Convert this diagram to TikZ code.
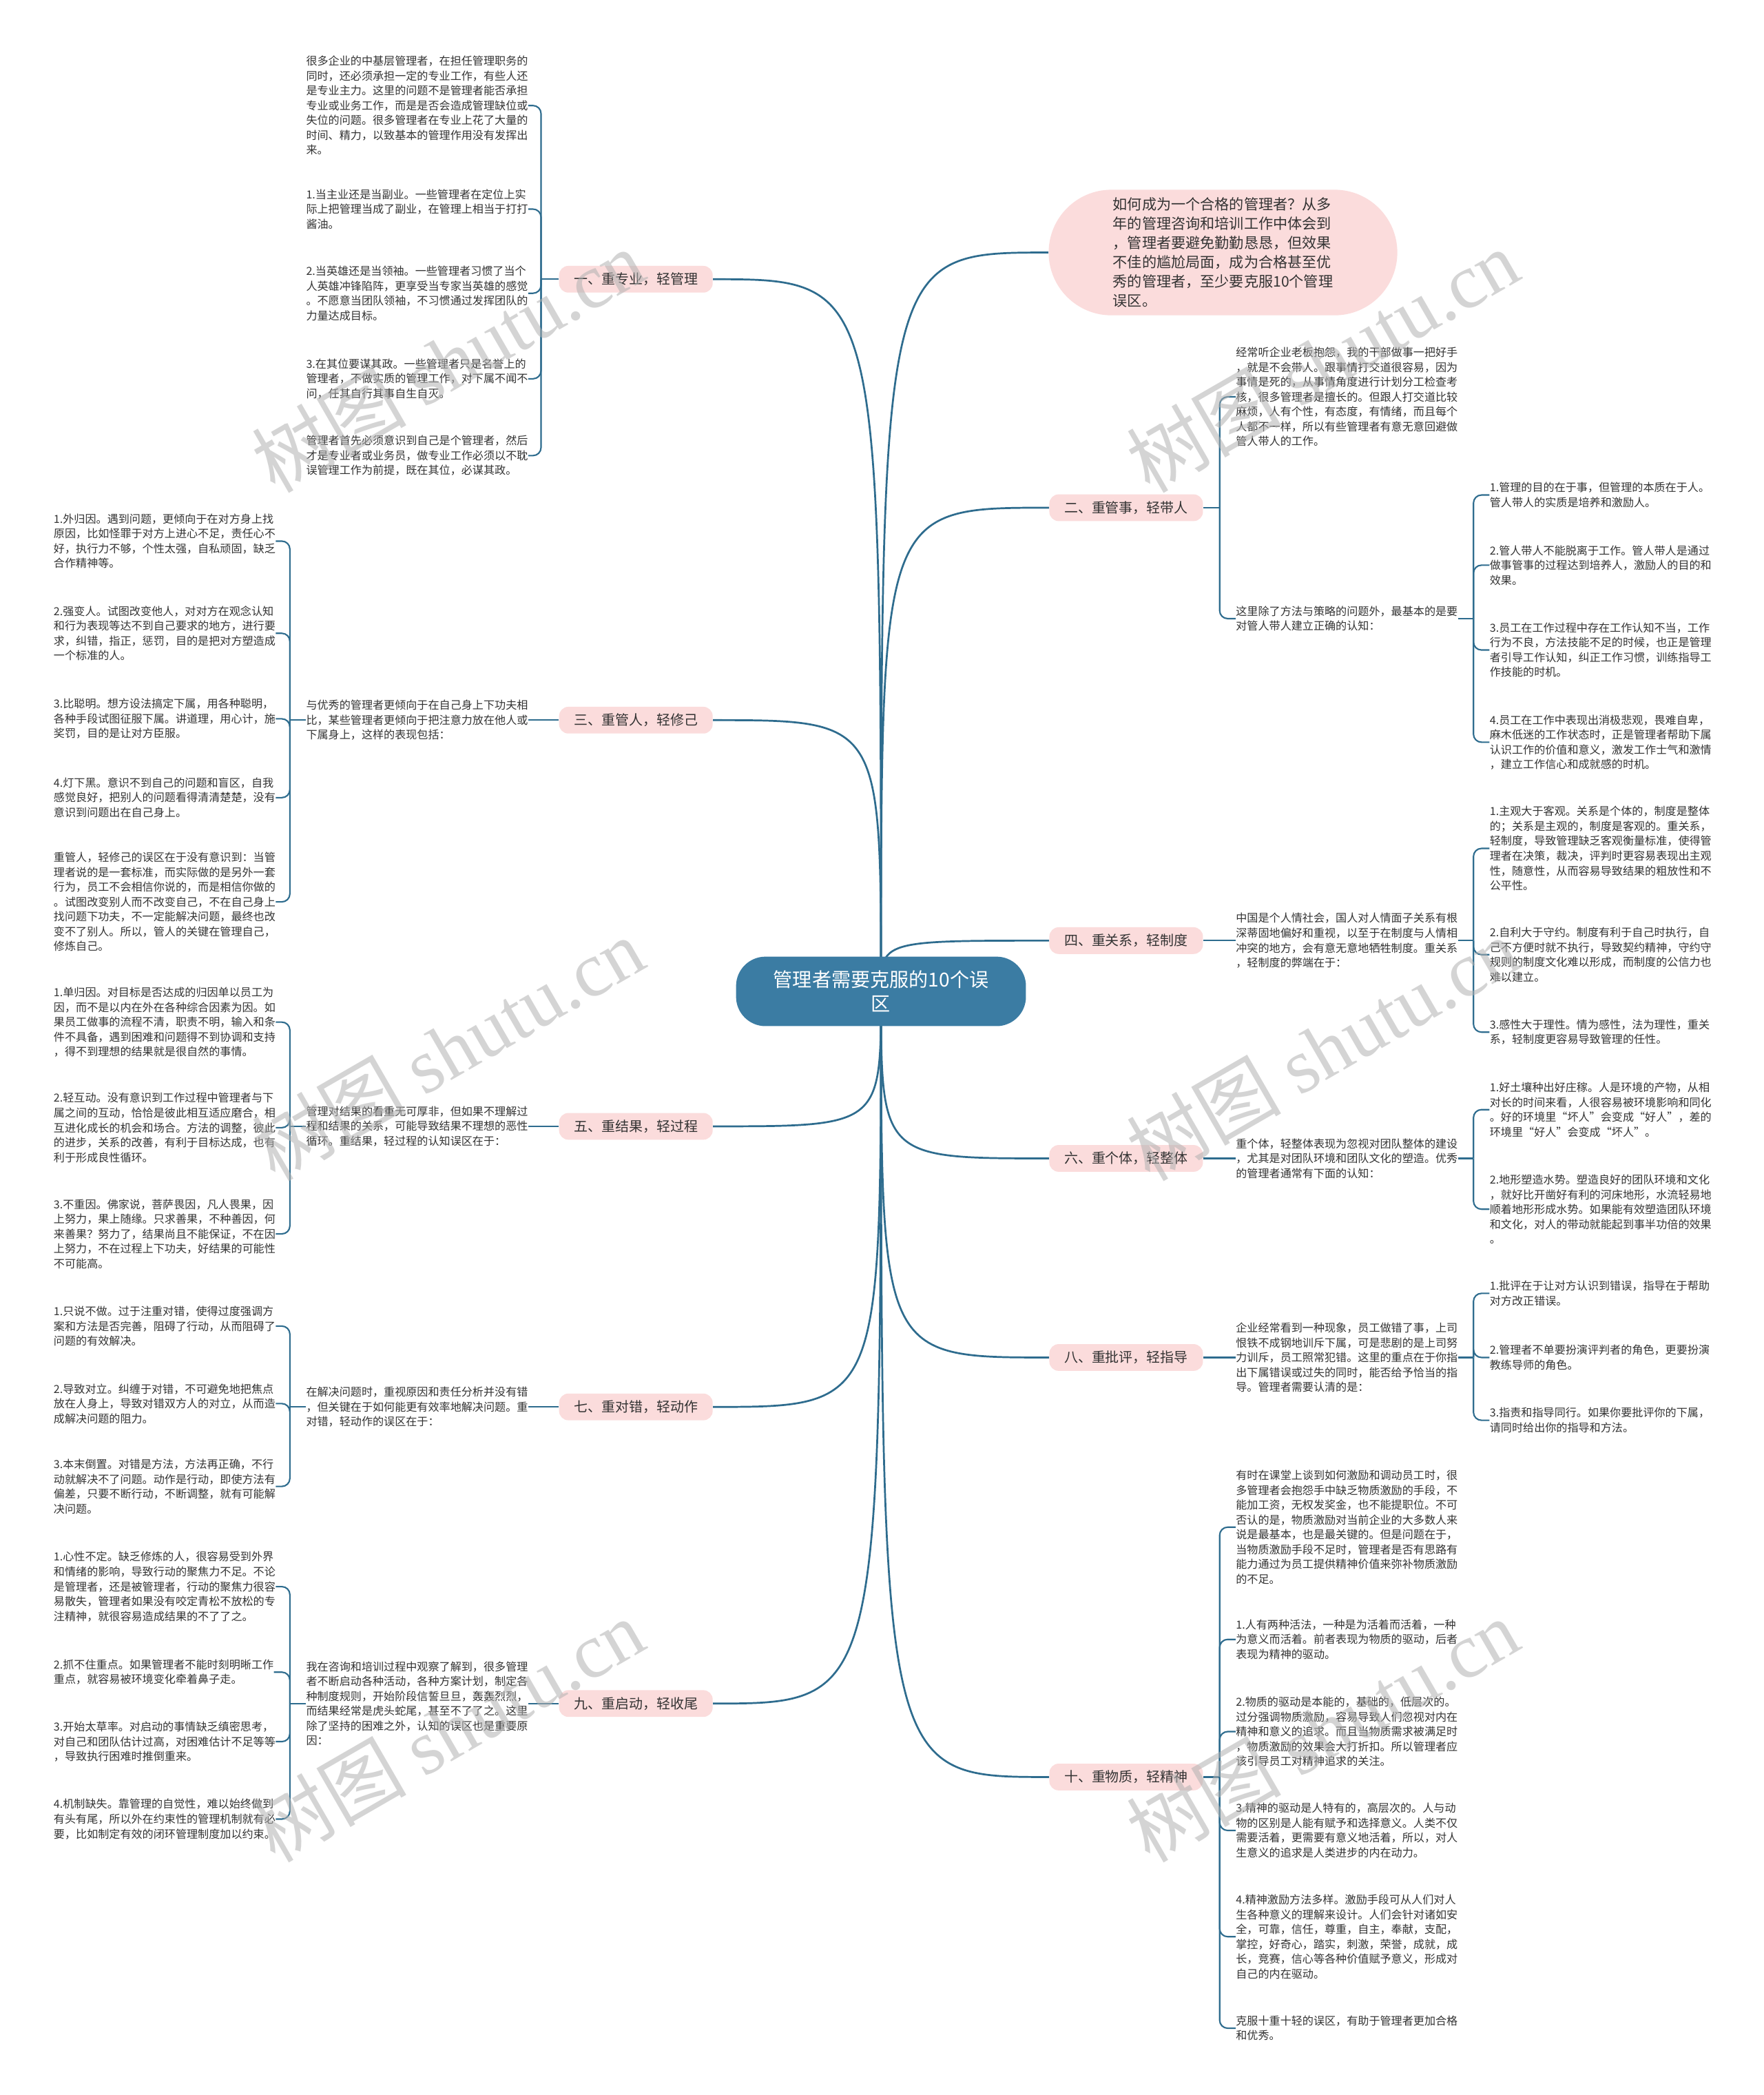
\documentclass[tikz,border=0pt]{standalone}
\usepackage{fontspec}
\setmainfont{Noto Sans CJK SC}
\newfontfamily\wmserif{Liberation Serif}
\usetikzlibrary{backgrounds}
\definecolor{linec}{HTML}{2E6C8E}
\definecolor{pinkf}{HTML}{FBDCDC}
\definecolor{rootf}{HTML}{3B7CA3}
\definecolor{txtc}{HTML}{333333}
\begin{document}
\begin{tikzpicture}[x=1pt,y=-1pt,
  leaf/.style={anchor=west, inner sep=0pt, align=left, text=txtc, font=\fontsize{8.3}{11.1}\selectfont},
  branch/.style={fill=pinkf, rounded corners=7pt, minimum width=115pt, minimum height=20pt, inner sep=0pt, text=txtc, font=\fontsize{10.3}{12}\selectfont},
  rootn/.style={fill=rootf, rounded corners=22pt, minimum width=217pt, minimum height=52pt, inner sep=0pt, align=center, text=white, font=\fontsize{14.5}{18}\selectfont},
  bubble/.style={fill=pinkf, rounded corners=47pt, minimum width=261pt, minimum height=94pt, inner sep=0pt, align=left, text=txtc, font=\fontsize{10.9}{14.4}\selectfont},
  link/.style={draw=linec, line width=1.1pt},
  mainlink/.style={draw=linec, line width=1.4pt},
  tick/.style={draw=linec, line width=1.1pt, rounded corners=6pt},
  wm/.style={rotate=30, text=black!30, text opacity=0.55, inner sep=0pt, font=\fontsize{58}{58}\selectfont}
]
\useasboundingbox (0,0) rectangle (1320,1568);

% ---------- root and intro ----------
\node[rootn] (root) at (659.5,742) {管理者需要克服的10个误\\区};
\node[bubble] (intro) at (915.5,189) {如何成为一个合格的管理者？从多\\年的管理咨询和培训工作中体会到\\，管理者要避免勤勤恳恳，但效果\\不佳的尴尬局面，成为合格甚至优\\秀的管理者，至少要克服10个管理\\误区。};

% ---------- branch nodes ----------
\node[branch] (b1) at (476,209) {一、重专业，轻管理};
\node[branch] (b3) at (476,539) {三、重管人，轻修己};
\node[branch] (b5) at (476,843) {五、重结果，轻过程};
\node[branch] (b7) at (476,1053) {七、重对错，轻动作};
\node[branch] (b9) at (476,1275) {九、重启动，轻收尾};
\node[branch] (b2) at (843,380) {二、重管事，轻带人};
\node[branch] (b4) at (843,704) {四、重关系，轻制度};
\node[branch] (b6) at (843,867) {六、重个体，轻整体};
\node[branch] (b8) at (843,1016) {八、重批评，轻指导};
\node[branch] (b10) at (843,1330) {十、重物质，轻精神};

% ---------- branch 1 ----------
\node[leaf] (c1a) at (229,79) {很多企业的中基层管理者，在担任管理职务的\\同时，还必须承担一定的专业工作，有些人还\\是专业主力。这里的问题不是管理者能否承担\\专业或业务工作，而是是否会造成管理缺位或\\失位的问题。很多管理者在专业上花了大量的\\时间、精力，以致基本的管理作用没有发挥出\\来。};
\node[leaf] (c1b) at (229,156.5) {1.当主业还是当副业。一些管理者在定位上实\\际上把管理当成了副业，在管理上相当于打打\\酱油。};
\node[leaf] (c1c) at (229,219.5) {2.当英雄还是当领袖。一些管理者习惯了当个\\人英雄冲锋陷阵，更享受当专家当英雄的感觉\\。不愿意当团队领袖，不习惯通过发挥团队的\\力量达成目标。};
\node[leaf] (c1d) at (229,283.5) {3.在其位要谋其政。一些管理者只是名誉上的\\管理者，不做实质的管理工作，对下属不闻不\\问，任其自行其事自生自灭。};
\node[leaf] (c1e) at (229,341) {管理者首先必须意识到自己是个管理者，然后\\才是专业者或业务员，做专业工作必须以不耽\\误管理工作为前提，既在其位，必谋其政。};

% ---------- branch 3 ----------
\node[leaf] (m3) at (229,539) {与优秀的管理者更倾向于在自己身上下功夫相\\比，某些管理者更倾向于把注意力放在他人或\\下属身上，这样的表现包括：};
\node[leaf] (c3a) at (40,405) {1.外归因。遇到问题，更倾向于在对方身上找\\原因，比如怪罪于对方上进心不足，责任心不\\好，执行力不够，个性太强，自私顽固，缺乏\\合作精神等。};
\node[leaf] (c3b) at (40,474) {2.强变人。试图改变他人，对对方在观念认知\\和行为表现等达不到自己要求的地方，进行要\\求，纠错，指正，惩罚，目的是把对方塑造成\\一个标准的人。};
\node[leaf] (c3c) at (40,538) {3.比聪明。想方设法搞定下属，用各种聪明，\\各种手段试图征服下属。讲道理，用心计，施\\奖罚，目的是让对方臣服。};
\node[leaf] (c3d) at (40,597) {4.灯下黑。意识不到自己的问题和盲区，自我\\感觉良好，把别人的问题看得清清楚楚，没有\\意识到问题出在自己身上。};
\node[leaf] (c3e) at (40,675) {重管人，轻修己的误区在于没有意识到：当管\\理者说的是一套标准，而实际做的是另外一套\\行为，员工不会相信你说的，而是相信你做的\\。试图改变别人而不改变自己，不在自己身上\\找问题下功夫，不一定能解决问题，最终也改\\变不了别人。所以，管人的关键在管理自己，\\修炼自己。};

% ---------- branch 5 ----------
\node[leaf] (m5) at (229,843) {管理对结果的看重无可厚非，但如果不理解过\\程和结果的关系，可能导致结果不理想的恶性\\循环。重结果，轻过程的认知误区在于：};
\node[leaf] (c5a) at (40,765) {1.单归因。对目标是否达成的归因单以员工为\\因，而不是以内在外在各种综合因素为因。如\\果员工做事的流程不清，职责不明，输入和条\\件不具备，遇到困难和问题得不到协调和支持\\，得不到理想的结果就是很自然的事情。};
\node[leaf] (c5b) at (40,844) {2.轻互动。没有意识到工作过程中管理者与下\\属之间的互动，恰恰是彼此相互适应磨合，相\\互进化成长的机会和场合。方法的调整，彼此\\的进步，关系的改善，有利于目标达成，也有\\利于形成良性循环。};
\node[leaf] (c5c) at (40,923.5) {3.不重因。佛家说，菩萨畏因，凡人畏果，因\\上努力，果上随缘。只求善果，不种善因，何\\来善果？努力了，结果尚且不能保证，不在因\\上努力，不在过程上下功夫，好结果的可能性\\不可能高。};

% ---------- branch 7 ----------
\node[leaf] (m7) at (229,1053) {在解决问题时，重视原因和责任分析并没有错\\，但关键在于如何能更有效率地解决问题。重\\对错，轻动作的误区在于：};
\node[leaf] (c7a) at (40,992.5) {1.只说不做。过于注重对错，使得过度强调方\\案和方法是否完善，阻碍了行动，从而阻碍了\\问题的有效解决。};
\node[leaf] (c7b) at (40,1050.5) {2.导致对立。纠缠于对错，不可避免地把焦点\\放在人身上，导致对错双方人的对立，从而造\\成解决问题的阻力。};
\node[leaf] (c7c) at (40,1112.5) {3.本末倒置。对错是方法，方法再正确，不行\\动就解决不了问题。动作是行动，即使方法有\\偏差，只要不断行动，不断调整，就有可能解\\决问题。};

% ---------- branch 9 ----------
\node[leaf] (m9) at (229,1275) {我在咨询和培训过程中观察了解到，很多管理\\者不断启动各种活动，各种方案计划，制定各\\种制度规则，开始阶段信誓旦旦，轰轰烈烈，\\而结果经常是虎头蛇尾，甚至不了了之。这里\\除了坚持的困难之外，认知的误区也是重要原\\因：};
\node[leaf] (c9a) at (40,1187.5) {1.心性不定。缺乏修炼的人，很容易受到外界\\和情绪的影响，导致行动的聚焦力不足。不论\\是管理者，还是被管理者，行动的聚焦力很容\\易散失，管理者如果没有咬定青松不放松的专\\注精神，就很容易造成结果的不了了之。};
\node[leaf] (c9b) at (40,1251.5) {2.抓不住重点。如果管理者不能时刻明晰工作\\重点，就容易被环境变化牵着鼻子走。};
\node[leaf] (c9c) at (40,1303.5) {3.开始太草率。对启动的事情缺乏缜密思考，\\对自己和团队估计过高，对困难估计不足等等\\，导致执行困难时推倒重来。};
\node[leaf] (c9d) at (40,1361.5) {4.机制缺失。靠管理的自觉性，难以始终做到\\有头有尾，所以外在约束性的管理机制就有必\\要，比如制定有效的闭环管理制度加以约束。};

% ---------- branch 2 ----------
\node[leaf] (m2a) at (925,297) {经常听企业老板抱怨，我的干部做事一把好手\\，就是不会带人。跟事情打交道很容易，因为\\事情是死的，从事情角度进行计划分工检查考\\核，很多管理者是擅长的。但跟人打交道比较\\麻烦，人有个性，有态度，有情绪，而且每个\\人都不一样，所以有些管理者有意无意回避做\\管人带人的工作。};
\node[leaf] (m2b) at (925,463) {这里除了方法与策略的问题外，最基本的是要\\对管人带人建立正确的认知：};
\node[leaf] (c2a) at (1115,370.5) {1.管理的目的在于事，但管理的本质在于人。\\管人带人的实质是培养和激励人。};
\node[leaf] (c2b) at (1115,423) {2.管人带人不能脱离于工作。管人带人是通过\\做事管事的过程达到培养人，激励人的目的和\\效果。};
\node[leaf] (c2c) at (1115,486.5) {3.员工在工作过程中存在工作认知不当，工作\\行为不良，方法技能不足的时候，也正是管理\\者引导工作认知，纠正工作习惯，训练指导工\\作技能的时机。};
\node[leaf] (c2d) at (1115,555.5) {4.员工在工作中表现出消极悲观，畏难自卑，\\麻木低迷的工作状态时，正是管理者帮助下属\\认识工作的价值和意义，激发工作士气和激情\\，建立工作信心和成就感的时机。};

% ---------- branch 4 ----------
\node[leaf] (m4) at (925,704) {中国是个人情社会，国人对人情面子关系有根\\深蒂固地偏好和重视，以至于在制度与人情相\\冲突的地方，会有意无意地牺牲制度。重关系\\，轻制度的弊端在于：};
\node[leaf] (c4a) at (1115,635) {1.主观大于客观。关系是个体的，制度是整体\\的；关系是主观的，制度是客观的。重关系，\\轻制度，导致管理缺乏客观衡量标准，使得管\\理者在决策，裁决，评判时更容易表现出主观\\性，随意性，从而容易导致结果的粗放性和不\\公平性。};
\node[leaf] (c4b) at (1115,714.5) {2.自利大于守约。制度有利于自己时执行，自\\己不方便时就不执行，导致契约精神，守约守\\规则的制度文化难以形成，而制度的公信力也\\难以建立。};
\node[leaf] (c4c) at (1115,772.5) {3.感性大于理性。情为感性，法为理性，重关\\系，轻制度更容易导致管理的任性。};

% ---------- branch 6 ----------
\node[leaf] (m6) at (925,867) {重个体，轻整体表现为忽视对团队整体的建设\\，尤其是对团队环境和团队文化的塑造。优秀\\的管理者通常有下面的认知：};
\node[leaf] (c6a) at (1115,830.5) {1.好土壤种出好庄稼。人是环境的产物，从相\\对长的时间来看，人很容易被环境影响和同化\\。好的环境里“坏人”会变成“好人”，差的\\环境里“好人”会变成“坏人”。};
\node[leaf] (c6b) at (1115,905) {2.地形塑造水势。塑造良好的团队环境和文化\\，就好比开凿好有利的河床地形，水流轻易地\\顺着地形形成水势。如果能有效塑造团队环境\\和文化，对人的带动就能起到事半功倍的效果\\。};

% ---------- branch 8 ----------
\node[leaf] (m8) at (925,1016) {企业经常看到一种现象，员工做错了事，上司\\恨铁不成钢地训斥下属，可是悲剧的是上司努\\力训斥，员工照常犯错。这里的重点在于你指\\出下属错误或过失的同时，能否给予恰当的指\\导。管理者需要认清的是：};
\node[leaf] (c8a) at (1115,968) {1.批评在于让对方认识到错误，指导在于帮助\\对方改正错误。};
\node[leaf] (c8b) at (1115,1016) {2.管理者不单要扮演评判者的角色，更要扮演\\教练导师的角色。};
\node[leaf] (c8c) at (1115,1063) {3.指责和指导同行。如果你要批评你的下属，\\请同时给出你的指导和方法。};

% ---------- branch 10 ----------
\node[leaf] (c10a) at (925,1143) {有时在课堂上谈到如何激励和调动员工时，很\\多管理者会抱怨手中缺乏物质激励的手段，不\\能加工资，无权发奖金，也不能提职位。不可\\否认的是，物质激励对当前企业的大多数人来\\说是最基本，也是最关键的。但是问题在于，\\当物质激励手段不足时，管理者是否有思路有\\能力通过为员工提供精神价值来弥补物质激励\\的不足。};
\node[leaf] (c10b) at (925,1227) {1.人有两种活法，一种是为活着而活着，一种\\为意义而活着。前者表现为物质的驱动，后者\\表现为精神的驱动。};
\node[leaf] (c10c) at (925,1296) {2.物质的驱动是本能的，基础的，低层次的。\\过分强调物质激励，容易导致人们忽视对内在\\精神和意义的追求。而且当物质需求被满足时\\，物质激励的效果会大打折扣。所以管理者应\\该引导员工对精神追求的关注。};
\node[leaf] (c10d) at (925,1370) {3.精神的驱动是人特有的，高层次的。人与动\\物的区别是人能有赋予和选择意义。人类不仅\\需要活着，更需要有意义地活着，所以，对人\\生意义的追求是人类进步的内在动力。};
\node[leaf] (c10e) at (925,1449.5) {4.精神激励方法多样。激励手段可从人们对人\\生各种意义的理解来设计。人们会针对诸如安\\全，可靠，信任，尊重，自主，奉献，支配，\\掌控，好奇心，踏实，刺激，荣誉，成就，成\\长，竞赛，信心等各种价值赋予意义，形成对\\自己的内在驱动。};
\node[leaf] (c10f) at (925,1518) {克服十重十轻的误区，有助于管理者更加合格\\和优秀。};

% ---------- junctions ----------
\coordinate (j1) at (405,209);
\coordinate (j3) at (217,539);
\coordinate (j5) at (217,843);
\coordinate (j7) at (217,1053);
\coordinate (j9) at (217,1275);
\coordinate (j2) at (913,380);
\coordinate (k2) at (1103,463);
\coordinate (k4) at (1103,704);
\coordinate (k6) at (1103,867);
\coordinate (k8) at (1103,1016);
\coordinate (j10) at (913,1330);

% ---------- connectors ----------
\begin{scope}[on background layer]
  \fill[white] (0,0) rectangle (1320,1568);
  \draw[mainlink] (root.center) .. controls (root.center |- intro.west) .. (intro.west);
  \foreach \b in {b1,b3,b5,b7,b9}
    \draw[mainlink] (root.center) .. controls (root.center |- \b.east) .. (\b.east);
  \foreach \b in {b2,b4,b6,b8,b10}
    \draw[mainlink] (root.center) .. controls (root.center |- \b.west) .. (\b.west);

  % branch 1
  \draw[link] (b1.west) -- (j1);
  \foreach \c in {c1a,c1b,c1c,c1d,c1e} \draw[tick] (j1) |- (\c.east);
  % branch 3
  \draw[link] (b3.west) -- (m3.east);
  \draw[link] (m3.west) -- (j3);
  \foreach \c in {c3a,c3b,c3c,c3d,c3e} \draw[tick] (j3) |- (\c.east);
  % branch 5
  \draw[link] (b5.west) -- (m5.east);
  \draw[link] (m5.west) -- (j5);
  \foreach \c in {c5a,c5b,c5c} \draw[tick] (j5) |- (\c.east);
  % branch 7
  \draw[link] (b7.west) -- (m7.east);
  \draw[link] (m7.west) -- (j7);
  \foreach \c in {c7a,c7b,c7c} \draw[tick] (j7) |- (\c.east);
  % branch 9
  \draw[link] (b9.west) -- (m9.east);
  \draw[link] (m9.west) -- (j9);
  \foreach \c in {c9a,c9b,c9c,c9d} \draw[tick] (j9) |- (\c.east);
  % branch 2
  \draw[link] (b2.east) -- (j2);
  \foreach \c in {m2a,m2b} \draw[tick] (j2) |- (\c.west);
  \draw[link] (m2b.east) -- (k2);
  \foreach \c in {c2a,c2b,c2c,c2d} \draw[tick] (k2) |- (\c.west);
  % branch 4
  \draw[link] (b4.east) -- (m4.west);
  \draw[link] (m4.east) -- (k4);
  \foreach \c in {c4a,c4b,c4c} \draw[tick] (k4) |- (\c.west);
  % branch 6
  \draw[link] (b6.east) -- (m6.west);
  \draw[link] (m6.east) -- (k6);
  \foreach \c in {c6a,c6b} \draw[tick] (k6) |- (\c.west);
  % branch 8
  \draw[link] (b8.east) -- (m8.west);
  \draw[link] (m8.east) -- (k8);
  \foreach \c in {c8a,c8b,c8c} \draw[tick] (k8) |- (\c.west);
  % branch 10
  \draw[link] (b10.east) -- (j10);
  \foreach \c in {c10a,c10b,c10c,c10d,c10e,c10f} \draw[tick] (j10) |- (\c.west);
\end{scope}

% ---------- watermarks ----------
\node[wm] (w1) at (335,270) {树图 {\wmserif shutu.cn}};
\node[wm] (w2) at (990,270) {树图 {\wmserif shutu.cn}};
\node[wm] (w3) at (335,785) {树图 {\wmserif shutu.cn}};
\node[wm] (w4) at (990,785) {树图 {\wmserif shutu.cn}};
\node[wm] (w5) at (335,1295) {树图 {\wmserif shutu.cn}};
\node[wm] (w6) at (990,1295) {树图 {\wmserif shutu.cn}};
\end{tikzpicture}
\end{document}
